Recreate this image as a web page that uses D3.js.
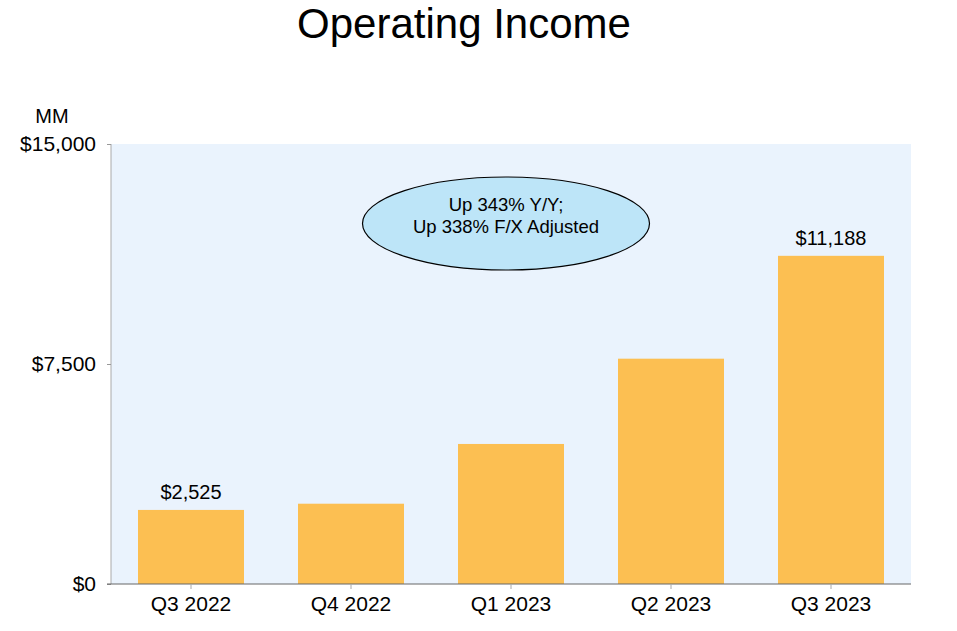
<!DOCTYPE html>
<html>
<head>
<meta charset="utf-8">
<script src="https://cdn.jsdelivr.net/npm/d3@7"></script>
<style>
  body { margin: 0; background: #fff; }
  svg { display: block; font-family: "Liberation Sans", Arial, sans-serif; }
</style>
</head>
<body>
<svg id="chart" width="957" height="631"></svg>
<script>
// Chart data
const quarters = ["Q3 2022", "Q4 2022", "Q1 2023", "Q2 2023", "Q3 2023"];
const income = [2525, 2737, 4774, 7681, 11188];
const yTicks = [0, 7500, 15000];
const labelled = ["Q3 2022", "Q3 2023"];
const calloutLines = ["Up 343% Y/Y;", "Up 338% F/X Adjusted"];

const svg = d3.select("#chart");
const margin = { top: 144, right: 46, bottom: 47, left: 111 };
const width = 957 - margin.left - margin.right;
const height = 631 - margin.top - margin.bottom;

const x = d3.scaleBand()
  .domain(quarters)
  .range([0, width])
  .paddingInner(0.3375)
  .paddingOuter(0.16875);

const y = d3.scaleLinear()
  .domain([0, 15000])
  .range([height, 0]);

// title
svg.append("text")
  .attr("x", 464)
  .attr("y", 38)
  .attr("text-anchor", "middle")
  .attr("font-size", 42)
  .text("Operating Income");

svg.append("text")
  .attr("x", 52)
  .attr("y", 123)
  .attr("text-anchor", "middle")
  .attr("font-size", 20)
  .text("MM");

const g = svg.append("g")
  .attr("transform", `translate(${margin.left},${margin.top})`);

// plot background
g.append("rect")
  .attr("width", width)
  .attr("height", height)
  .attr("fill", "#eaf3fd");

// y axis
const yAxis = g.append("g")
  .call(d3.axisLeft(y).tickValues(yTicks).tickSize(4).tickPadding(11)
    .tickFormat(d => "$" + d3.format(",")(d)));
yAxis.select(".domain").attr("stroke", "#aaa").attr("d", `M0,0V${height}`);
yAxis.selectAll(".tick line").attr("stroke", "#999");
yAxis.selectAll(".tick text")
  .attr("font-size", 21)
  .attr("font-family", "Liberation Sans, Arial, sans-serif")
  .attr("fill", "#000");

// bars
g.selectAll("rect.bar")
  .data(quarters)
  .enter().append("rect")
  .attr("class", "bar")
  .attr("x", d => x(d))
  .attr("width", x.bandwidth())
  .attr("y", (d, i) => y(income[i]))
  .attr("height", (d, i) => height - y(income[i]))
  .attr("fill", "#fcbf52");

// x axis
const xAxis = g.append("g")
  .attr("transform", `translate(0,${height})`)
  .call(d3.axisBottom(x).tickSize(5).tickPadding(7));
xAxis.select(".domain").attr("stroke", "#666").attr("d", `M-4,0H${width}`);
xAxis.selectAll(".tick line").attr("stroke", "#aaa");
xAxis.selectAll(".tick text")
  .attr("font-size", 21)
  .attr("font-family", "Liberation Sans, Arial, sans-serif")
  .attr("fill", "#000");

// value labels
g.selectAll("text.value")
  .data(quarters.filter(q => labelled.includes(q)))
  .enter().append("text")
  .attr("class", "value")
  .attr("x", d => x(d) + x.bandwidth() / 2)
  .attr("y", d => y(income[quarters.indexOf(d)]) - 11)
  .attr("text-anchor", "middle")
  .attr("font-size", 20)
  .text(d => "$" + d3.format(",")(income[quarters.indexOf(d)]));

// callout
const callout = svg.append("g").attr("transform", "translate(506,223.5)");
callout.append("ellipse")
  .attr("rx", 143.5)
  .attr("ry", 46.5)
  .attr("fill", "#bde5f8")
  .attr("stroke", "#000")
  .attr("stroke-width", 1.2);
callout.selectAll("text")
  .data(calloutLines)
  .enter().append("text")
  .attr("x", 0)
  .attr("y", (d, i) => -12.5 + i * 22)
  .attr("text-anchor", "middle")
  .attr("font-size", 18.5)
  .text(d => d);
</script>
</body>
</html>
